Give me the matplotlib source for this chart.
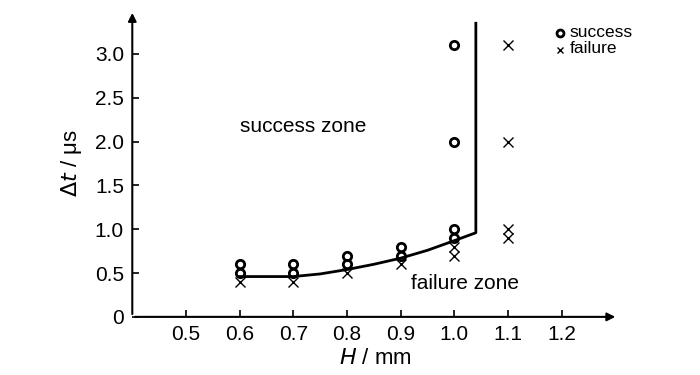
import numpy as np
import matplotlib.pyplot as plt

plt.rcParams['font.family'] = ['Liberation Sans', 'DejaVu Sans']

# datos
succ_H = [0.6, 0.6, 0.7, 0.7, 0.8, 0.8, 0.9, 0.9, 1.0, 1.0, 1.0, 1.0]
succ_t = [0.6, 0.5, 0.6, 0.5, 0.7, 0.6, 0.8, 0.7, 3.1, 2.0, 1.0, 0.9]
fail_H = [0.6, 0.7, 0.8, 0.9, 1.0, 1.0, 1.1, 1.1, 1.1, 1.1]
fail_t = [0.4, 0.4, 0.5, 0.6, 0.8, 0.7, 3.1, 2.0, 1.0, 0.9]

# frontera
bound_H = [0.6, 0.7, 0.75, 0.8, 0.85, 0.9, 0.95, 1.0, 1.04, 1.04]
bound_t = [0.46, 0.46, 0.49, 0.54, 0.60, 0.67, 0.76, 0.87, 0.96, 3.35]

xticks = [0.5, 0.6, 0.7, 0.8, 0.9, 1.0, 1.1, 1.2]
yticks = [0, 0.5, 1.0, 1.5, 2.0, 2.5, 3.0]
ylabels = ["0", "0.5", "1.0", "1.5", "2.0", "2.5", "3.0"]

fig = plt.figure(figsize=(7, 3.75), dpi=100)
ax = fig.add_axes([0.189, 0.155, 0.694, 0.818])

ax.plot(bound_H, bound_t, color='black', lw=2)
ax.plot(succ_H, succ_t, 'o', ms=6, mfc='none', mec='black', mew=2, linestyle='none')
ax.plot(fail_H, fail_t, 'x', ms=6.5, color='black', mew=1, linestyle='none')

ax.set_xlim(0.4, 1.305)
ax.set_ylim(0, 3.5)
ax.set_xticks(xticks)
ax.set_xticklabels([f"{v:.1f}" for v in xticks])
ax.set_yticks(yticks)
ax.set_yticklabels(ylabels)
ax.tick_params(direction='in', length=5, width=1.2, labelsize=15, pad=6)

for s in ['top', 'right', 'left', 'bottom']:
    ax.spines[s].set_visible(False)
ax.annotate('', xy=(1.0, 0), xytext=(0, 0), xycoords='axes fraction',
            arrowprops=dict(arrowstyle='-|>', color='black', lw=1.5, mutation_scale=12))
ax.annotate('', xy=(0, 1.0), xytext=(0, 0), xycoords='axes fraction',
            arrowprops=dict(arrowstyle='-|>', color='black', lw=1.5, mutation_scale=12))

ax.text(0.6, 2.17, "success zone", fontsize=15, va='center')
ax.text(0.92, 0.38, "failure zone", fontsize=15, va='center')

# leyenda
ax.plot([1.197], [3.24], 'o', ms=5, mfc='none', mec='black', mew=2, clip_on=False)
ax.text(1.215, 3.25, "success", fontsize=12.5, va='center')
ax.plot([1.197], [3.05], 'x', ms=5, color='black', mew=1, clip_on=False)
ax.text(1.215, 3.06, "failure", fontsize=12.5, va='center')

ax.set_xlabel(r"$H$ / mm", fontsize=16, labelpad=3)
ax.set_ylabel(r"$\Delta t$ / μs", fontsize=16, labelpad=8)

plt.savefig("out.png", dpi=100)
